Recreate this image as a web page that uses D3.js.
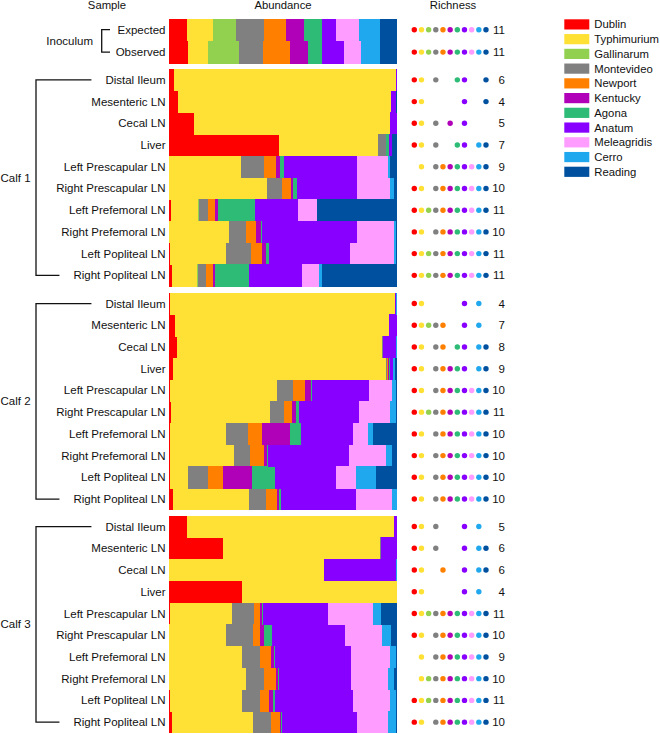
<!DOCTYPE html>
<html>
<head>
<meta charset="utf-8">
<script src="https://cdn.jsdelivr.net/npm/d3@7"></script>
<style>
  html, body { margin: 0; padding: 0; background: #fff; }
  svg { display: block; font-family: "Liberation Sans", Arial, Helvetica, sans-serif; }
</style>
</head>
<body>
<svg id="chart" width="660" height="734"></svg>
<script>
// ---------- DATA ----------
const serovars = ["Dublin", "Typhimurium", "Gallinarum", "Montevideo", "Newport", "Kentucky",
                  "Agona", "Anatum", "Meleagridis", "Cerro", "Reading"];
const serovarColors = ["#ff0000", "#ffe135", "#92d050", "#808080", "#ff8000", "#b000b8",
                       "#2dbb76", "#8800ff", "#ff9cff", "#20a8ee", "#0050a0"];
const inoculumLabels = ["Expected", "Observed"];
const tissueLabels = ["Distal Ileum", "Mesenteric LN", "Cecal LN", "Liver",
  "Left Prescapular LN", "Right Prescapular LN", "Left Prefemoral LN",
  "Right Prefemoral LN", "Left Popliteal LN", "Right Popliteal LN"];
const groupNames = ["Calf 1", "Calf 2", "Calf 3"];
const columnTitles = ["Sample", "Abundance", "Richness"];

// relative abundance (%) per serovar, in serovar order
const inoculum = [
  [8.0, 11.4, 9.9, 12.3, 9.6, 7.9, 8.0, 6.3, 9.8, 9.5, 7.3],
  [8.5, 8.8, 13.4, 10.4, 12.0, 8.0, 5.8, 9.9, 7.6, 8.3, 7.3]
];
const calf1 = [
  [2.2, 97.2, 0, 0.1, 0, 0, 0.2, 0.1, 0, 0, 0.2],
  [4.1, 93.1, 0, 0, 0, 0, 0, 2.2, 0, 0, 0.6],
  [11.1, 85.7, 0, 0.1, 0, 0.1, 0, 3.0, 0, 0, 0],
  [48.3, 43.4, 0, 3.4, 0, 0, 1.5, 1.0, 0, 0.3, 2.1],
  [0, 31.5, 0, 10.1, 5.3, 2.0, 1.5, 32.1, 13.6, 1.0, 2.9],
  [0.2, 43.0, 0, 6.3, 3.8, 1.0, 1.9, 26.3, 14.3, 1.9, 1.3],
  [0.9, 12.0, 0.1, 4.1, 2.9, 1.5, 16.1, 19.0, 8.3, 0.2, 34.9],
  [0.2, 26.0, 0, 7.7, 4.4, 2.0, 0.7, 41.6, 16.2, 0.7, 0.5],
  [0.4, 24.5, 0.1, 10.9, 4.7, 1.9, 1.5, 35.6, 19.1, 0.7, 0.6],
  [1.2, 11.2, 0.1, 3.8, 2.8, 0.9, 14.9, 23.4, 7.7, 1.0, 33.0]
];
const calf2 = [
  [0.5, 98.7, 0, 0, 0, 0, 0, 0.5, 0, 0.3, 0],
  [2.6, 93.9, 0.05, 0.05, 0.1, 0, 0, 3.1, 0, 0.2, 0],
  [3.6, 89.9, 0, 0.3, 0.1, 0, 0.1, 5.4, 0, 0.4, 0.2],
  [1.6, 93.4, 0, 0.6, 0.3, 0.8, 0.3, 1.2, 0, 0.9, 0.9],
  [0.3, 46.9, 0, 7.0, 5.4, 2.5, 0.6, 25.1, 10.0, 1.6, 0.6],
  [0.9, 43.2, 0.1, 6.1, 3.8, 1.8, 1.2, 26.1, 13.6, 2.6, 0.6],
  [0.4, 24.8, 0, 9.5, 6.1, 12.4, 4.8, 22.7, 6.6, 2.2, 10.5],
  [0.4, 28.0, 0, 7.3, 5.8, 1.5, 0.4, 35.4, 16.5, 2.5, 2.2],
  [0.3, 8.0, 0, 8.8, 6.7, 12.7, 10.2, 26.7, 8.8, 8.5, 9.3],
  [1.6, 33.6, 0, 7.2, 4.8, 1.2, 0.6, 33.0, 15.6, 2.2, 0.2]
];
const calf3 = [
  [7.7, 90.8, 0, 0.1, 0, 0, 0, 1.2, 0, 0.2, 0],
  [23.5, 69.2, 0, 0.1, 0, 0, 0, 7.0, 0, 0.1, 0.1],
  [0.2, 67.6, 0, 0, 0.1, 0, 0, 31.8, 0, 0.2, 0.1],
  [32.1, 67.7, 0, 0, 0, 0, 0, 0.1, 0, 0.1, 0],
  [0.3, 27.3, 0.1, 9.5, 2.5, 1.0, 0.6, 28.6, 19.6, 3.3, 7.2],
  [0.2, 24.6, 0, 12.1, 2.9, 1.8, 3.4, 32.1, 16.5, 3.9, 2.5],
  [0, 32.1, 0, 7.7, 4.8, 1.3, 0.7, 33.1, 17.4, 2.3, 0.6],
  [0, 33.6, 0.1, 8.0, 5.1, 1.2, 0.4, 31.4, 16.4, 2.5, 1.3],
  [0.3, 31.8, 0.1, 7.7, 3.9, 1.9, 0.7, 34.3, 16.1, 2.6, 0.6],
  [1.2, 35.8, 0, 7.7, 3.9, 0.4, 0.6, 32.8, 13.6, 3.4, 0.6]
];

// ---------- LAYOUT ----------
const svg = d3.select("#chart");
const FONT = 11.3;
const LABEL_FONT = 11.5;
const barX0 = 169, barX1 = 397;
const labelRight = 165.5;
const dotX0 = 414.3, dotStep = 7.17, dotR = 2.7;
const countRight = 505;

const x = d3.scaleLinear().domain([0, 100]).range([barX0, barX1]);
const dotX = d3.scaleLinear().domain([0, serovars.length - 1])
  .range([dotX0, dotX0 + dotStep * (serovars.length - 1)]);

const panels = [
  { name: "Inoculum", labels: inoculumLabels, rows: inoculum, y0: 18.5, y1: 63.3, kind: "inoc" },
  { name: groupNames[0], labels: tissueLabels, rows: calf1, y0: 69, y1: 286.2, kind: "calf" },
  { name: groupNames[1], labels: tissueLabels, rows: calf2, y0: 292.7, y1: 509.9, kind: "calf" },
  { name: groupNames[2], labels: tissueLabels, rows: calf3, y0: 515.7, y1: 733, kind: "calf" }
];

const stack = d3.stack().keys(d3.range(serovars.length)).value((d, k) => d[k]);

// column titles
const titleX = [107, (barX0 + barX1) / 2, 453];
svg.selectAll("text.coltitle").data(columnTitles).join("text")
  .attr("class", "coltitle")
  .attr("x", (d, i) => titleX[i]).attr("y", 9)
  .attr("text-anchor", "middle")
  .attr("font-size", FONT).attr("fill", "#111")
  .text(d => d);

panels.forEach(p => {
  const y = d3.scaleBand().domain(d3.range(p.rows.length)).range([p.y0, p.y1]).padding(0);
  const g = svg.append("g");
  const series = stack(p.rows);

  // stacked bars
  g.selectAll("g.ser").data(series).join("g")
    .attr("fill", (s, i) => serovarColors[i])
    .selectAll("rect").data(s => s.map((v, j) => ({ v, j }))).join("rect")
    .attr("x", d => x(d.v[0]))
    .attr("width", d => Math.max(0, x(d.v[1]) - x(d.v[0])))
    .attr("y", d => y(d.j))
    .attr("height", y.bandwidth() + 0.4)
    .attr("shape-rendering", "crispEdges");

  // sample labels
  const labels = g.selectAll("text.lab").data(p.labels).join("text")
    .attr("class", "lab")
    .attr("x", labelRight)
    .attr("y", (d, i) => y(i) + y.bandwidth() / 2)
    .attr("dy", "0.35em")
    .attr("text-anchor", "end")
    .attr("font-size", LABEL_FONT).attr("fill", "#111")
    .text(d => d);

  const widths = labels.nodes().map(n => n.getComputedTextLength());
  const firstC = y(0) + y.bandwidth() / 2;
  const lastC = y(p.rows.length - 1) + y.bandwidth() / 2;

  if (p.kind === "calf") {
    const vx = 36;
    const gap = 14;
    const topEnd = labelRight - widths[0] - gap;
    const botEnd = labelRight - widths[widths.length - 1] - gap;
    g.append("path")
      .attr("d", `M${topEnd},${firstC}H${vx}V${lastC}H${botEnd}`)
      .attr("fill", "none").attr("stroke", "#111").attr("stroke-width", 1.3);
    g.append("text")
      .attr("x", 0.5).attr("y", (firstC + lastC) / 2).attr("dy", "0.35em")
      .attr("font-size", LABEL_FONT).attr("fill", "#111")
      .text(p.name);
  } else {
    const vx = 101.7;
    const end = 110;
    g.append("path")
      .attr("d", `M${end},${firstC}H${vx}V${lastC}H${end}`)
      .attr("fill", "none").attr("stroke", "#111").attr("stroke-width", 1.3);
    g.append("text")
      .attr("x", 93).attr("y", (firstC + lastC) / 2).attr("dy", "0.35em")
      .attr("text-anchor", "end")
      .attr("font-size", LABEL_FONT).attr("fill", "#111")
      .text(p.name);
  }

  // richness dots
  const rowG = g.selectAll("g.rich").data(p.rows).join("g")
    .attr("class", "rich")
    .attr("transform", (d, i) => `translate(0,${y(i) + y.bandwidth() / 2})`);
  rowG.selectAll("circle")
    .data(d => d.map((v, k) => ({ v, k })).filter(o => o.v > 0))
    .join("circle")
    .attr("cx", o => dotX(o.k)).attr("cy", 0).attr("r", dotR)
    .attr("fill", o => serovarColors[o.k]);
  rowG.append("text")
    .attr("x", countRight).attr("dy", "0.35em")
    .attr("text-anchor", "end")
    .attr("font-size", LABEL_FONT).attr("fill", "#111")
    .text(d => d.filter(v => v > 0).length);
});

// legend
const legY0 = 19.3, legStep = 14.74, legSwW = 25, legSwH = 10.2, legX = 564.3;
const leg = svg.append("g");
const li = leg.selectAll("g").data(serovars).join("g")
  .attr("transform", (d, i) => `translate(${legX},${legY0 + i * legStep})`);
li.append("rect").attr("width", legSwW).attr("height", legSwH)
  .attr("fill", (d, i) => serovarColors[i]);
li.append("text").attr("x", legSwW + 5).attr("y", legSwH / 2).attr("dy", "0.35em")
  .attr("font-size", FONT).attr("fill", "#111").text(d => d);
</script>
</body>
</html>
